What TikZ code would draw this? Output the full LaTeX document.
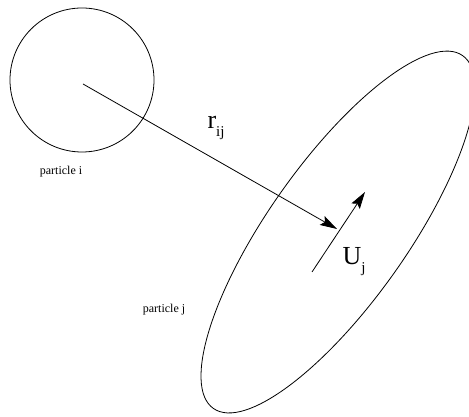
\documentclass[tikz,border=0pt]{standalone}
\usepackage{fontspec}
\setmainfont{Liberation Serif}
\usetikzlibrary{arrows.meta}
\begin{document}
\begin{tikzpicture}[x=1pt,y=1pt,
  shape line/.style={line width=0.8pt},
  vec/.style={line width=0.8pt,-{Stealth[length=17pt,width=10pt,inset=3pt]}},
  small label/.style={font=\fontsize{12}{12}\selectfont, inner sep=0pt},
  big label/.style={font=\fontsize{26}{26}\selectfont, inner sep=0pt}]
\useasboundingbox (0,0) rectangle (469,417);
\clip (0,0) rectangle (469,417);
% particle i
\coordinate (ci) at (82,337);
\draw[shape line] (ci) circle [radius=72];
% particle j
\coordinate (cj) at (338,185);
\draw[shape line, rotate around={54.75:(cj)}] (cj) ellipse [x radius=216, y radius=69.5];
% vectors
\coordinate (rstart) at (83,333);
\coordinate (rend) at (337,188);
\draw[vec] (rstart) -- (rend);
\coordinate (ustart) at (312,145);
\coordinate (uend) at (365,225);
\draw[vec] (ustart) -- (uend);
% labels
\node[big label] (rlab) at (216,289) {r\raisebox{-8pt}{\fontsize{15}{15}\selectfont ij}};
\node[big label] (ulab) at (354,155) {U\raisebox{-8pt}{\fontsize{15}{15}\selectfont j}};
\node[small label] (pi) at (61,245) {particle i};
\node[small label] (pj) at (164,107) {particle j};
\end{tikzpicture}
\end{document}
